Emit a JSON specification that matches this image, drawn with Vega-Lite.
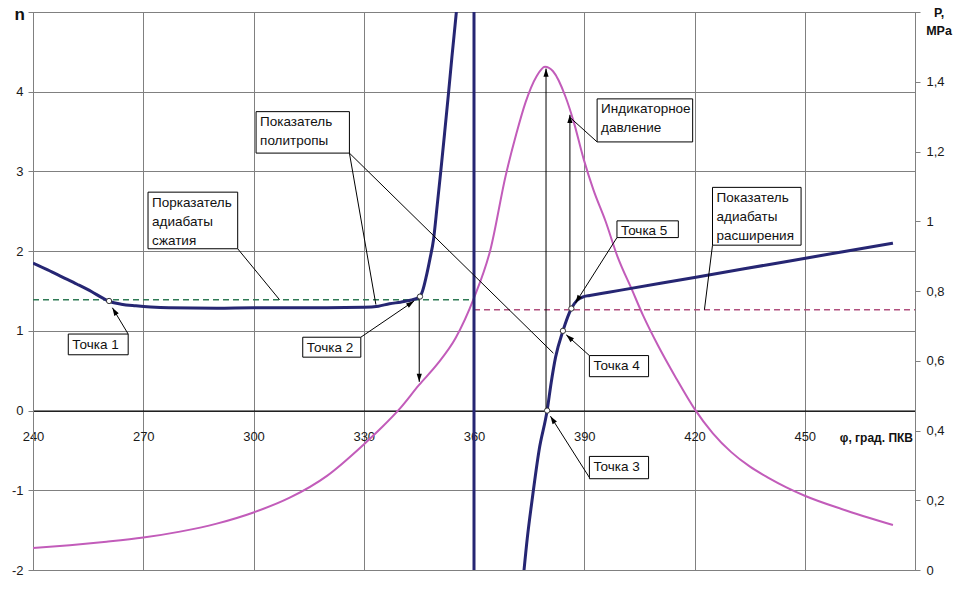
{
  "$schema": "https://vega.github.io/schema/vega-lite/v6.json",
  "width": 882,
  "height": 558,
  "autosize": {"type": "none"},
  "padding": {"left": 33, "top": 12, "right": 42, "bottom": 20},
  "background": "white",
  "config": {
    "view": {"stroke": "#808080", "strokeWidth": 1},
    "font": "Liberation Sans",
    "axis": {
      "labelFont": "Liberation Sans",
      "labelFontSize": 13,
      "labelColor": "#1a1a1a",
      "gridColor": "#808080",
      "gridOpacity": 1,
      "gridWidth": 1,
      "domainColor": "#808080",
      "tickColor": "#808080",
      "title": null
    }
  },
  "datasets": {
    "pressure": [
      {"phi": 240, "P": 0.063}, {"phi": 250, "P": 0.071}, {"phi": 260, "P": 0.081},
      {"phi": 270, "P": 0.093}, {"phi": 280, "P": 0.11}, {"phi": 290, "P": 0.133},
      {"phi": 300, "P": 0.165}, {"phi": 310, "P": 0.208}, {"phi": 320, "P": 0.27},
      {"phi": 330, "P": 0.36}, {"phi": 335, "P": 0.41}, {"phi": 340, "P": 0.465},
      {"phi": 345, "P": 0.53}, {"phi": 350, "P": 0.59}, {"phi": 355, "P": 0.665},
      {"phi": 360, "P": 0.78}, {"phi": 364.5, "P": 0.92}, {"phi": 368.6, "P": 1.13},
      {"phi": 371.5, "P": 1.25}, {"phi": 374, "P": 1.34}, {"phi": 377, "P": 1.415},
      {"phi": 379.3, "P": 1.443}, {"phi": 381.5, "P": 1.43}, {"phi": 384.9, "P": 1.357},
      {"phi": 387, "P": 1.29}, {"phi": 389.9, "P": 1.176}, {"phi": 392.5, "P": 1.09},
      {"phi": 395.8, "P": 1.0}, {"phi": 399, "P": 0.9}, {"phi": 403, "P": 0.803},
      {"phi": 406, "P": 0.73}, {"phi": 410, "P": 0.645}, {"phi": 415, "P": 0.55},
      {"phi": 420, "P": 0.462}, {"phi": 425, "P": 0.392}, {"phi": 430, "P": 0.338},
      {"phi": 435, "P": 0.297}, {"phi": 440, "P": 0.265}, {"phi": 445, "P": 0.237},
      {"phi": 450, "P": 0.213}, {"phi": 460, "P": 0.175}, {"phi": 474, "P": 0.129}
    ],
    "ncurve": [
      {"branch": "compression", "phi": 240, "n": 1.85},
      {"branch": "compression", "phi": 244, "n": 1.765},
      {"branch": "compression", "phi": 248, "n": 1.675},
      {"branch": "compression", "phi": 252, "n": 1.585},
      {"branch": "compression", "phi": 256, "n": 1.49},
      {"branch": "compression", "phi": 259, "n": 1.41},
      {"branch": "compression", "phi": 261, "n": 1.365},
      {"branch": "compression", "phi": 264, "n": 1.335},
      {"branch": "compression", "phi": 268, "n": 1.315},
      {"branch": "compression", "phi": 272, "n": 1.3},
      {"branch": "compression", "phi": 277, "n": 1.29},
      {"branch": "compression", "phi": 290, "n": 1.285},
      {"branch": "compression", "phi": 300, "n": 1.29},
      {"branch": "compression", "phi": 310, "n": 1.29},
      {"branch": "compression", "phi": 320, "n": 1.29},
      {"branch": "compression", "phi": 330, "n": 1.295},
      {"branch": "compression", "phi": 334, "n": 1.31},
      {"branch": "compression", "phi": 337, "n": 1.34},
      {"branch": "compression", "phi": 340, "n": 1.36},
      {"branch": "compression", "phi": 342.4, "n": 1.38},
      {"branch": "compression", "phi": 345.1, "n": 1.42},
      {"branch": "compression", "phi": 346, "n": 1.5},
      {"branch": "compression", "phi": 347, "n": 1.68},
      {"branch": "compression", "phi": 348, "n": 1.9},
      {"branch": "compression", "phi": 349, "n": 2.15},
      {"branch": "compression", "phi": 350, "n": 2.58},
      {"branch": "compression", "phi": 351, "n": 3.02},
      {"branch": "compression", "phi": 352, "n": 3.48},
      {"branch": "compression", "phi": 353, "n": 3.95},
      {"branch": "compression", "phi": 354, "n": 4.44},
      {"branch": "compression", "phi": 355.2, "n": 5.0},
      {"branch": "compression", "phi": 356, "n": 5.4},
      {"branch": "expansion", "phi": 373.3, "n": -2.15},
      {"branch": "expansion", "phi": 374.5, "n": -1.6},
      {"branch": "expansion", "phi": 375.8, "n": -1.125},
      {"branch": "expansion", "phi": 377.7, "n": -0.5},
      {"branch": "expansion", "phi": 379.9, "n": 0.0},
      {"branch": "expansion", "phi": 381, "n": 0.35},
      {"branch": "expansion", "phi": 382.2, "n": 0.67},
      {"branch": "expansion", "phi": 384.2, "n": 1.0},
      {"branch": "expansion", "phi": 386.5, "n": 1.28},
      {"branch": "expansion", "phi": 388, "n": 1.38},
      {"branch": "expansion", "phi": 389.9, "n": 1.43},
      {"branch": "expansion", "phi": 391.5, "n": 1.443},
      {"branch": "expansion", "phi": 395, "n": 1.471},
      {"branch": "expansion", "phi": 400, "n": 1.511},
      {"branch": "expansion", "phi": 420, "n": 1.67},
      {"branch": "expansion", "phi": 440, "n": 1.83},
      {"branch": "expansion", "phi": 460, "n": 1.99},
      {"branch": "expansion", "phi": 474, "n": 2.1}
    ],
    "reflines": [
      {"name": "compression", "phi": 240, "phi2": 360, "n": 1.39},
      {"name": "expansion", "phi": 360, "phi2": 480, "n": 1.265}
    ],
    "tdc": [{"phi": 360}],
    "leaders": [
      {"phi": 295.7, "n": 2.03, "phi2": 307.1, "n2": 1.39},
      {"phi": 326.1, "n": 3.23, "phi2": 333.3, "n2": 1.33},
      {"phi": 326.1, "n": 3.23, "phi2": 381.6, "n2": 0.72},
      {"phi": 393.5, "n": 3.37, "phi2": 386.3, "n2": 3.67},
      {"phi": 424.9, "n": 2.075, "phi2": 422.7, "n2": 1.265}
    ],
    "arrows": [
      {"id": "down345", "phi": 345.1, "n": 1.42, "phi2": 345.1, "n2": 0.36},
      {"id": "up380", "phi": 379.6, "n": 0.0, "phi2": 379.6, "n2": 4.29},
      {"id": "up386", "phi": 386.1, "n": 1.27, "phi2": 386.1, "n2": 3.71},
      {"id": "t1", "phi": 265.9, "n": 0.96, "phi2": 261.6, "n2": 1.29},
      {"id": "t2", "phi": 329.2, "n": 0.92, "phi2": 343.7, "n2": 1.375},
      {"id": "t3", "phi": 391.4, "n": -0.84, "phi2": 380.8, "n2": -0.07},
      {"id": "t4", "phi": 391.4, "n": 0.69, "phi2": 385.1, "n2": 0.95},
      {"id": "t5", "phi": 398.9, "n": 2.17, "phi2": 387.6, "n2": 1.35}
    ],
    "points": [
      {"name": "Точка 1", "phi": 260.7, "n": 1.375},
      {"name": "Точка 2", "phi": 345.3, "n": 1.43},
      {"name": "Точка 3", "phi": 379.9, "n": 0.0},
      {"name": "Точка 4", "phi": 384.2, "n": 1.0},
      {"name": "Точка 5", "phi": 386.5, "n": 1.28}
    ],
    "boxes": [
      {"label": "Порказатель\nадиабаты\nсжатия", "phi": 271.3, "phi2": 295.7, "n": 2.74, "n2": 2.03},
      {"label": "Показатель\nполитропы", "phi": 300.7, "phi2": 326.1, "n": 3.75, "n2": 3.23},
      {"label": "Индикаторное\nдавление", "phi": 393.5, "phi2": 419.5, "n": 3.91, "n2": 3.37},
      {"label": "Показатель\nадиабаты\nрасширения", "phi": 424.9, "phi2": 449.0, "n": 2.8, "n2": 2.075},
      {"label": "Точка 5", "phi": 398.9, "phi2": 415.6, "n": 2.38, "n2": 2.17},
      {"label": "Точка 1", "phi": 249.6, "phi2": 265.9, "n": 0.96, "n2": 0.7},
      {"label": "Точка 2", "phi": 313.4, "phi2": 329.2, "n": 0.92, "n2": 0.67},
      {"label": "Точка 4", "phi": 391.4, "phi2": 407.5, "n": 0.69, "n2": 0.425},
      {"label": "Точка 3", "phi": 391.4, "phi2": 407.5, "n": -0.575, "n2": -0.855}
    ]
  },
  "layer": [
    {
      "data": {"name": "pressure"},
      "mark": {"type": "line", "color": "#c25cba", "strokeWidth": 2, "interpolate": "monotone", "clip": true},
      "encoding": {
        "x": {
          "field": "phi", "type": "quantitative",
          "scale": {"domain": [240, 480], "nice": false, "zero": false},
          "axis": {
            "values": [240, 270, 300, 330, 360, 390, 420, 450, 480],
            "grid": true,
            "offset": -159.43,
            "ticks": false,
            "labelPadding": 20,
            "domainColor": "#000000",
            "domainWidth": 1.2,
            "labelFlush": false,
            "labelOverlap": false,
            "labelExpr": "datum.value >= 480 ? '' : datum.label"
          }
        },
        "y": {
          "field": "P", "type": "quantitative",
          "scale": {"domain": [0, 1.6], "nice": false, "zero": false},
          "axis": {
            "orient": "right",
            "values": [0, 0.2, 0.4, 0.6, 0.8, 1, 1.2, 1.4, 1.6],
            "grid": false,
            "tickSize": 5,
            "labelPadding": 6,
            "labelExpr": "datum.value > 1.5 ? '' : replace(format(datum.value, '~g'), '.', ',')"
          }
        }
      }
    },
    {
      "layer": [
        {
          "data": {"name": "reflines"},
          "mark": {"type": "rule", "strokeWidth": 1.3, "strokeDash": [6, 4]},
          "encoding": {
            "x": {"field": "phi", "type": "quantitative"},
            "x2": {"field": "phi2"},
            "y": {
              "field": "n", "type": "quantitative",
              "scale": {"domain": [-2, 5], "nice": false, "zero": false},
              "axis": {
                "orient": "left",
                "values": [-2, -1, 0, 1, 2, 3, 4, 5],
                "grid": true,
                "tickSize": 5,
                "labelPadding": 5,
                "labelExpr": "datum.value >= 5 ? '' : (datum.value < 0 ? '-' + format(-datum.value, '~g') : format(datum.value, '~g'))"
              }
            },
            "color": {
              "field": "name", "type": "nominal", "legend": null,
              "scale": {"domain": ["compression", "expansion"], "range": ["#2f7a55", "#b0507e"]}
            }
          }
        },
        {
          "data": {"name": "tdc"},
          "mark": {"type": "rule", "color": "#262673", "strokeWidth": 3},
          "encoding": {"x": {"field": "phi", "type": "quantitative"}}
        },
        {
          "data": {"name": "ncurve"},
          "mark": {"type": "line", "color": "#262673", "strokeWidth": 3, "interpolate": "monotone", "clip": true},
          "encoding": {
            "x": {"field": "phi", "type": "quantitative"},
            "y": {"field": "n", "type": "quantitative", "scale": {"domain": [-2, 5], "nice": false, "zero": false}},
            "detail": {"field": "branch", "type": "nominal"}
          }
        },
        {
          "data": {"name": "leaders"},
          "mark": {"type": "rule", "color": "#000000", "strokeWidth": 1},
          "encoding": {
            "x": {"field": "phi", "type": "quantitative"},
            "x2": {"field": "phi2"},
            "y": {"field": "n", "type": "quantitative"},
            "y2": {"field": "n2"}
          }
        },
        {
          "data": {"name": "arrows"},
          "mark": {"type": "rule", "color": "#000000", "strokeWidth": 1},
          "encoding": {
            "x": {"field": "phi", "type": "quantitative"},
            "x2": {"field": "phi2"},
            "y": {"field": "n", "type": "quantitative"},
            "y2": {"field": "n2"}
          }
        },
        {
          "data": {"name": "arrows"},
          "transform": [{"filter": "datum.id == 'down345'"}],
          "mark": {"type": "point", "shape": "M0,0L0.32,1L-0.32,1Z", "filled": true, "color": "#000000", "opacity": 1, "size": 260, "angle": 180, "strokeWidth": 0},
          "encoding": {"x": {"field": "phi2", "type": "quantitative"}, "y": {"field": "n2", "type": "quantitative"}}
        },
        {
          "data": {"name": "arrows"},
          "transform": [{"filter": "datum.id == 'up380' || datum.id == 'up386'"}],
          "mark": {"type": "point", "shape": "M0,0L0.32,1L-0.32,1Z", "filled": true, "color": "#000000", "opacity": 1, "size": 260, "angle": 0, "strokeWidth": 0},
          "encoding": {"x": {"field": "phi2", "type": "quantitative"}, "y": {"field": "n2", "type": "quantitative"}}
        },
        {
          "data": {"name": "arrows"},
          "transform": [{"filter": "datum.id == 't1'"}],
          "mark": {"type": "point", "shape": "M0,0L0.32,1L-0.32,1Z", "filled": true, "color": "#000000", "opacity": 1, "size": 260, "angle": -31, "strokeWidth": 0},
          "encoding": {"x": {"field": "phi2", "type": "quantitative"}, "y": {"field": "n2", "type": "quantitative"}}
        },
        {
          "data": {"name": "arrows"},
          "transform": [{"filter": "datum.id == 't2'"}],
          "mark": {"type": "point", "shape": "M0,0L0.32,1L-0.32,1Z", "filled": true, "color": "#000000", "opacity": 1, "size": 260, "angle": 55.7, "strokeWidth": 0},
          "encoding": {"x": {"field": "phi2", "type": "quantitative"}, "y": {"field": "n2", "type": "quantitative"}}
        },
        {
          "data": {"name": "arrows"},
          "transform": [{"filter": "datum.id == 't3'"}],
          "mark": {"type": "point", "shape": "M0,0L0.32,1L-0.32,1Z", "filled": true, "color": "#000000", "opacity": 1, "size": 260, "angle": -32.4, "strokeWidth": 0},
          "encoding": {"x": {"field": "phi2", "type": "quantitative"}, "y": {"field": "n2", "type": "quantitative"}}
        },
        {
          "data": {"name": "arrows"},
          "transform": [{"filter": "datum.id == 't4'"}],
          "mark": {"type": "point", "shape": "M0,0L0.32,1L-0.32,1Z", "filled": true, "color": "#000000", "opacity": 1, "size": 260, "angle": -48.3, "strokeWidth": 0},
          "encoding": {"x": {"field": "phi2", "type": "quantitative"}, "y": {"field": "n2", "type": "quantitative"}}
        },
        {
          "data": {"name": "arrows"},
          "transform": [{"filter": "datum.id == 't5'"}],
          "mark": {"type": "point", "shape": "M0,0L0.32,1L-0.32,1Z", "filled": true, "color": "#000000", "opacity": 1, "size": 260, "angle": -147.6, "strokeWidth": 0},
          "encoding": {"x": {"field": "phi2", "type": "quantitative"}, "y": {"field": "n2", "type": "quantitative"}}
        },
        {
          "data": {"name": "points"},
          "mark": {"type": "point", "shape": "circle", "filled": true, "fill": "#ffffff", "stroke": "#333333", "strokeWidth": 1, "opacity": 1, "size": 28},
          "encoding": {"x": {"field": "phi", "type": "quantitative"}, "y": {"field": "n", "type": "quantitative"}}
        },
        {
          "data": {"name": "boxes"},
          "mark": {"type": "rect", "fill": "#ffffff", "stroke": "#000000", "strokeWidth": 1},
          "encoding": {
            "x": {"field": "phi", "type": "quantitative"},
            "x2": {"field": "phi2"},
            "y": {"field": "n", "type": "quantitative"},
            "y2": {"field": "n2"}
          }
        },
        {
          "data": {"name": "boxes"},
          "mark": {"type": "text", "align": "left", "baseline": "top", "dx": 4, "dy": 3.5, "fontSize": 13.5, "lineHeight": 19, "lineBreak": "\n", "color": "#111111", "font": "Liberation Sans"},
          "encoding": {
            "x": {"field": "phi", "type": "quantitative"},
            "y": {"field": "n", "type": "quantitative"},
            "text": {"field": "label", "type": "nominal"}
          }
        },
        {
          "data": {"values": [{"phi": 240, "n": 5, "text": "n"}]},
          "mark": {"type": "text", "align": "right", "baseline": "middle", "dx": -8, "dy": 3, "fontSize": 17, "fontWeight": "bold", "color": "#111111", "font": "Liberation Sans"},
          "encoding": {
            "x": {"field": "phi", "type": "quantitative"},
            "y": {"field": "n", "type": "quantitative"},
            "text": {"field": "text", "type": "nominal"}
          }
        },
        {
          "data": {"values": [{"phi": 480, "n": 5, "text": "P,\nMPa"}]},
          "mark": {"type": "text", "align": "center", "baseline": "top", "dx": 24, "dy": -5, "fontSize": 12.5, "lineHeight": 18, "lineBreak": "\n", "fontWeight": "bold", "color": "#111111", "font": "Liberation Sans"},
          "encoding": {
            "x": {"field": "phi", "type": "quantitative"},
            "y": {"field": "n", "type": "quantitative"},
            "text": {"field": "text", "type": "nominal"}
          }
        },
        {
          "data": {"values": [{"phi": 480, "n": 0, "text": "φ, град. ПКВ"}]},
          "mark": {"type": "text", "align": "right", "baseline": "middle", "dx": -2, "dy": 27, "fontSize": 12, "fontWeight": "bold", "color": "#111111", "font": "Liberation Sans"},
          "encoding": {
            "x": {"field": "phi", "type": "quantitative"},
            "y": {"field": "n", "type": "quantitative"},
            "text": {"field": "text", "type": "nominal"}
          }
        }
      ]
    }
  ],
  "resolve": {"scale": {"y": "independent"}}
}
